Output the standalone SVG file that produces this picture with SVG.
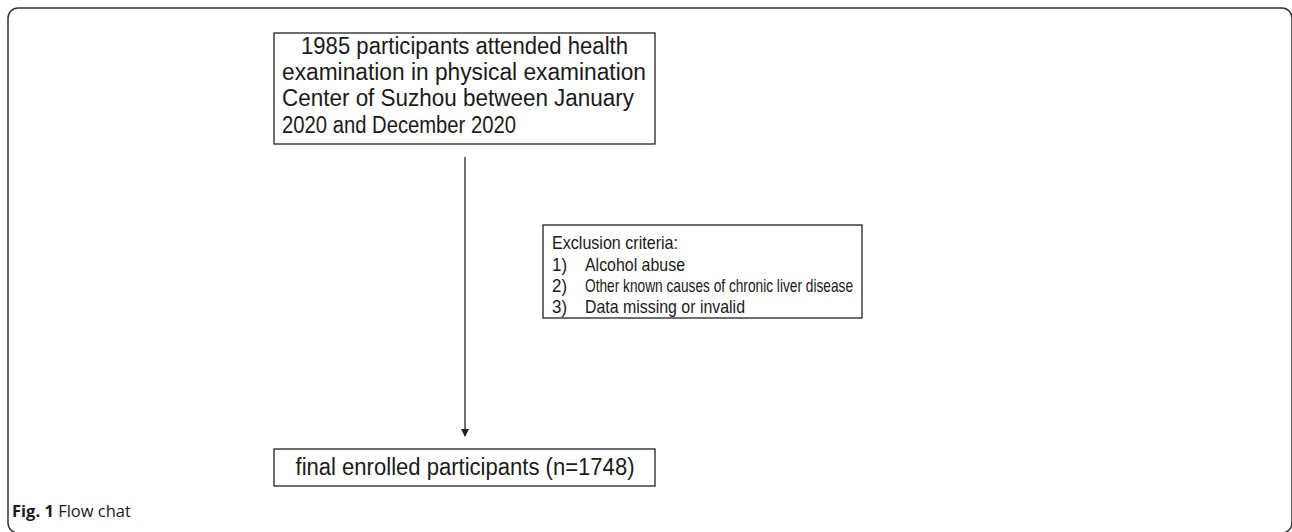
<svg xmlns="http://www.w3.org/2000/svg" width="1292" height="532" viewBox="0 0 1292 532">
  <style>
    .box { fill: #ffffff; stroke: #222222; stroke-width: 1.3; }
    .t { font-family: "Liberation Sans", Arial, sans-serif; fill: #1a1a1a; }
    .top { font-size: 23px; }
    .ex { font-size: 18.5px; }
    .cap { font-family: "Open Sans", "Noto Sans", sans-serif; font-size: 16.5px; fill: #1a1a1a; }
    .conn { stroke: #222222; stroke-width: 1.3; fill: none; }
  </style>
  <defs>
    <marker id="arrow" markerWidth="8" markerHeight="8" refX="7" refY="4" orient="auto" markerUnits="userSpaceOnUse">
      <path d="M0,0 L8,4 L0,8 Z" fill="#222222"/>
    </marker>
  </defs>
  <rect x="8" y="8" width="1284" height="525" rx="10" ry="10" fill="#ffffff" stroke="#333333" stroke-width="1.5"/>
  <g id="connectors">
    <line class="conn" x1="465" y1="157" x2="465" y2="436" marker-end="url(#arrow)"/>
  </g>
  <g id="node-start">
    <rect class="box" x="274" y="33" width="381" height="111"/>
    <text class="t top" x="301" y="54" textLength="327" lengthAdjust="spacingAndGlyphs">1985 participants attended health</text>
    <text class="t top" x="282" y="80" textLength="364" lengthAdjust="spacingAndGlyphs">examination in physical examination</text>
    <text class="t top" x="282" y="106" textLength="352" lengthAdjust="spacingAndGlyphs">Center of Suzhou between January</text>
    <text class="t top" x="282" y="133" textLength="234" lengthAdjust="spacingAndGlyphs">2020 and December 2020</text>
  </g>
  <g id="node-exclusion">
    <rect class="box" x="543" y="225" width="319" height="93"/>
    <text class="t ex" x="552" y="249" textLength="126" lengthAdjust="spacingAndGlyphs">Exclusion criteria:</text>
    <text class="t ex" x="552" y="271" textLength="15" lengthAdjust="spacingAndGlyphs">1)</text>
    <text class="t ex" x="585" y="271" textLength="100" lengthAdjust="spacingAndGlyphs">Alcohol abuse</text>
    <text class="t ex" x="552" y="292" textLength="15" lengthAdjust="spacingAndGlyphs">2)</text>
    <text class="t ex" x="585" y="292" textLength="268" lengthAdjust="spacingAndGlyphs">Other known causes of chronic liver disease</text>
    <text class="t ex" x="552" y="313" textLength="15" lengthAdjust="spacingAndGlyphs">3)</text>
    <text class="t ex" x="585" y="313" textLength="160" lengthAdjust="spacingAndGlyphs">Data missing or invalid</text>
  </g>
  <g id="node-final">
    <rect class="box" x="274" y="449" width="381" height="37"/>
    <text class="t top" x="465" y="475" text-anchor="middle" textLength="339" lengthAdjust="spacingAndGlyphs">final enrolled participants (n=1748)</text>
  </g>
  <g id="caption">
    <text class="cap" x="12" y="517"><tspan font-weight="bold">Fig. 1</tspan> Flow chat</text>
  </g>
</svg>
